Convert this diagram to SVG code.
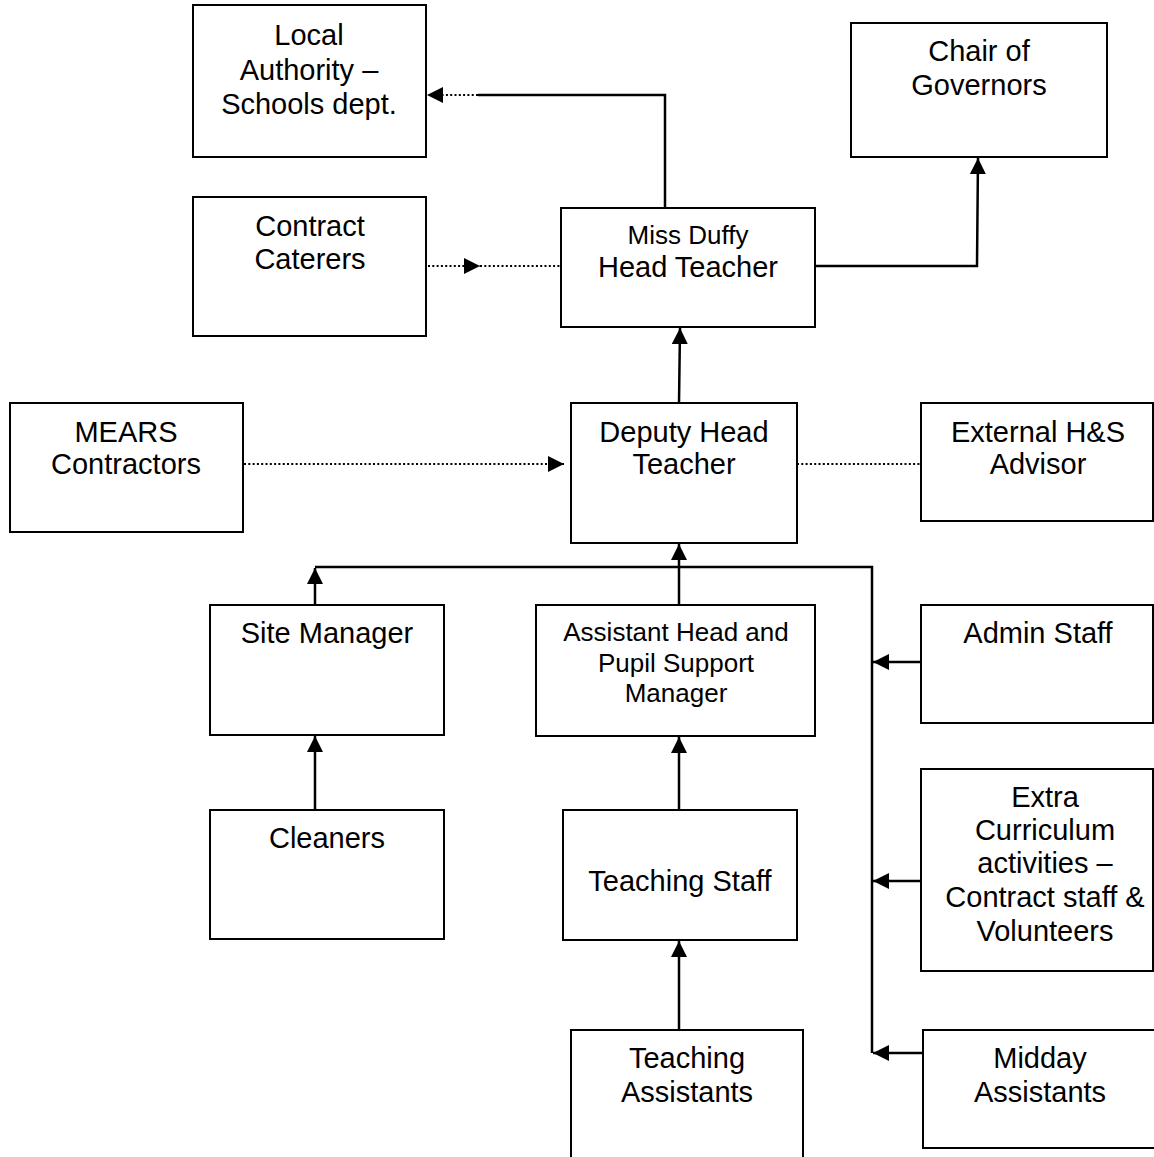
<svg xmlns="http://www.w3.org/2000/svg" width="1154" height="1157" viewBox="0 0 1154 1157">
  <defs>
    <marker id="arr" markerUnits="userSpaceOnUse" markerWidth="17" markerHeight="17" refX="16" refY="8" orient="auto">
      <path d="M0,0 L16,8 L0,16 z" fill="#000"/>
    </marker>
    <style>
      .box { fill: #fff; stroke: #000; stroke-width: 2; }
      .t { font-family: "Liberation Sans", Arial, sans-serif; font-size: 29px; fill: #000; text-anchor: middle; }
      .s { font-size: 26px; }
      .solid { fill: none; stroke: #000; stroke-width: 2.5; }
      .dot { fill: none; stroke: #000; stroke-width: 2.2; stroke-dasharray: 2 2.3; }
    </style>
  </defs>
  <rect width="1154" height="1157" fill="#fff"/>

  <g id="connectors">
    <polyline class="solid" points="665,208 665,95 478,95"/>
    <line class="dot" x1="478" y1="95" x2="427" y2="95" marker-end="url(#arr)"/>
    <line class="dot" x1="428" y1="266" x2="480" y2="266" marker-end="url(#arr)"/>
    <line class="dot" x1="480" y1="266" x2="561" y2="266"/>
    <polyline class="solid" points="815,266 977,266 978,158" marker-end="url(#arr)"/>
    <line class="solid" x1="679" y1="403" x2="680" y2="328" marker-end="url(#arr)"/>
    <line class="dot" x1="244" y1="464" x2="564" y2="464" marker-end="url(#arr)"/>
    <line class="dot" x1="797" y1="464" x2="921" y2="464"/>
    <line class="solid" x1="679" y1="605" x2="679" y2="544" marker-end="url(#arr)"/>
    <polyline class="solid" points="315,567 872,567 872,1053"/>
    <line class="solid" x1="315" y1="605" x2="315" y2="568" marker-end="url(#arr)"/>
    <line class="solid" x1="922" y1="662" x2="873" y2="662" marker-end="url(#arr)"/>
    <line class="solid" x1="922" y1="881" x2="873" y2="881" marker-end="url(#arr)"/>
    <line class="solid" x1="923" y1="1053" x2="873" y2="1053" marker-end="url(#arr)"/>
    <line class="solid" x1="315" y1="810" x2="315" y2="736" marker-end="url(#arr)"/>
    <line class="solid" x1="679" y1="810" x2="679" y2="737" marker-end="url(#arr)"/>
    <line class="solid" x1="679" y1="1030" x2="679" y2="941" marker-end="url(#arr)"/>
  </g>

  <g id="local-authority">
    <rect class="box" x="193" y="5" width="233" height="152"/>
    <text class="t" x="309" y="45">Local</text>
    <text class="t" x="309" y="80">Authority –</text>
    <text class="t" x="309" y="114">Schools dept.</text>
  </g>
  <g id="chair-of-governors">
    <rect class="box" x="851" y="23" width="256" height="134"/>
    <text class="t" x="979" y="61">Chair of</text>
    <text class="t" x="979" y="95">Governors</text>
  </g>
  <g id="contract-caterers">
    <rect class="box" x="193" y="197" width="233" height="139"/>
    <text class="t" x="310" y="236">Contract</text>
    <text class="t" x="310" y="269">Caterers</text>
  </g>
  <g id="head-teacher">
    <rect class="box" x="561" y="208" width="254" height="119"/>
    <text class="t s" x="688" y="244">Miss Duffy</text>
    <text class="t" x="688" y="277">Head Teacher</text>
  </g>
  <g id="mears-contractors">
    <rect class="box" x="10" y="403" width="233" height="129"/>
    <text class="t" x="126" y="442">MEARS</text>
    <text class="t" x="126" y="474">Contractors</text>
  </g>
  <g id="deputy-head">
    <rect class="box" x="571" y="403" width="226" height="140"/>
    <text class="t" x="684" y="442">Deputy Head</text>
    <text class="t" x="684" y="474">Teacher</text>
  </g>
  <g id="external-hs-advisor">
    <rect class="box" x="921" y="403" width="232" height="118"/>
    <text class="t" x="1038" y="442">External H&amp;S</text>
    <text class="t" x="1038" y="474">Advisor</text>
  </g>
  <g id="site-manager">
    <rect class="box" x="210" y="605" width="234" height="130"/>
    <text class="t" x="327" y="643">Site Manager</text>
  </g>
  <g id="assistant-head">
    <rect class="box" x="536" y="605" width="279" height="131"/>
    <text class="t s" x="676" y="641">Assistant Head and</text>
    <text class="t s" x="676" y="672">Pupil Support</text>
    <text class="t s" x="676" y="702">Manager</text>
  </g>
  <g id="admin-staff">
    <rect class="box" x="921" y="605" width="232" height="118"/>
    <text class="t" x="1038" y="643">Admin Staff</text>
  </g>
  <g id="cleaners">
    <rect class="box" x="210" y="810" width="234" height="129"/>
    <text class="t" x="327" y="848">Cleaners</text>
  </g>
  <g id="teaching-staff">
    <rect class="box" x="563" y="810" width="234" height="130"/>
    <text class="t" x="680" y="891">Teaching Staff</text>
  </g>
  <g id="extra-curriculum">
    <rect class="box" x="921" y="769" width="232" height="202"/>
    <text class="t" x="1045" y="807">Extra</text>
    <text class="t" x="1045" y="840">Curriculum</text>
    <text class="t" x="1045" y="873">activities –</text>
    <text class="t" x="1045" y="907">Contract staff &amp;</text>
    <text class="t" x="1045" y="941">Volunteers</text>
  </g>
  <g id="teaching-assistants">
    <rect class="box" x="571" y="1030" width="232" height="140"/>
    <text class="t" x="687" y="1068">Teaching</text>
    <text class="t" x="687" y="1102">Assistants</text>
  </g>
  <g id="midday-assistants">
    <rect class="box" x="923" y="1030" width="240" height="118"/>
    <text class="t" x="1040" y="1068">Midday</text>
    <text class="t" x="1040" y="1102">Assistants</text>
  </g>
</svg>
